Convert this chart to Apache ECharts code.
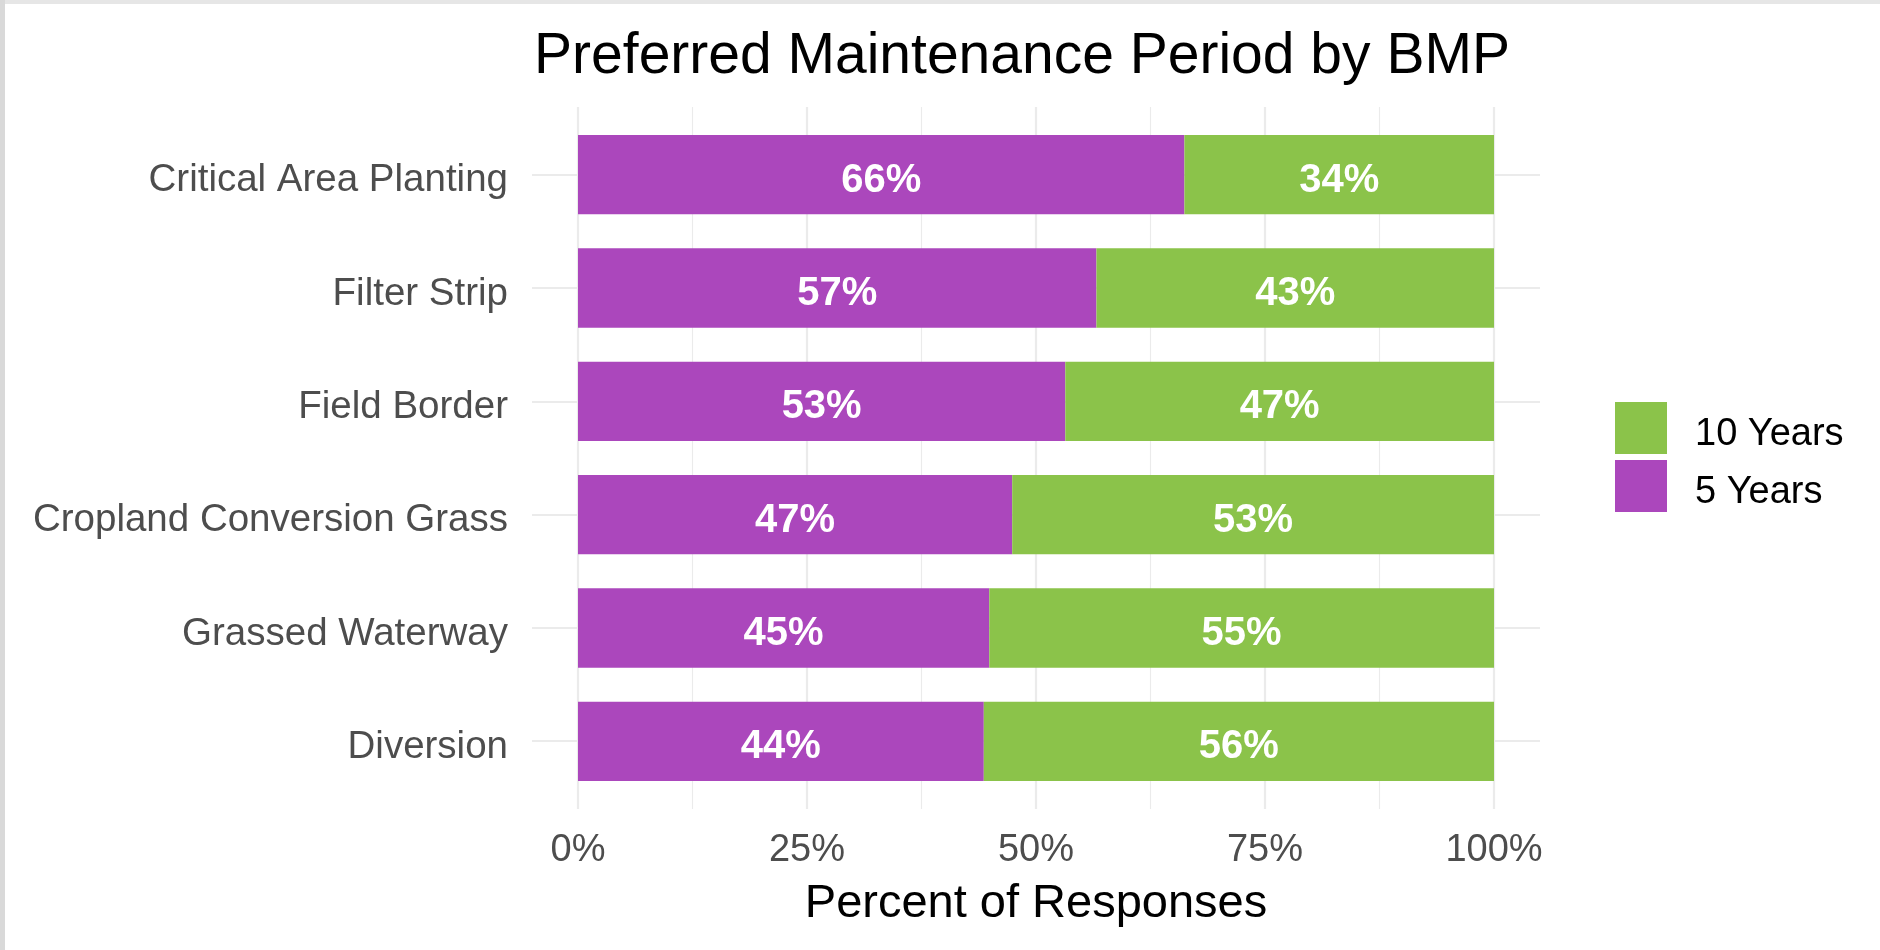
<!DOCTYPE html>
<html>
<head>
<meta charset="utf-8">
<script src="https://cdn.jsdelivr.net/npm/echarts@6/dist/echarts.min.js"></script>
<style>
  html, body { margin: 0; padding: 0; background: #fff; }
  #chart { width: 1880px; height: 950px; }
  .edge-top { position: absolute; left: 0; top: 0; width: 1880px; height: 4px; background: #e6e6e6; }
  .edge-left { position: absolute; left: 0; top: 0; width: 5px; height: 950px; background: #d9d9d9; }
</style>
</head>
<body>
<div id="chart"></div>
<div class="edge-top"></div>
<div class="edge-left"></div>
<script>
// 数据：每个BMP的偏好维护周期占比（从上到下）
const categories = [
  'Critical Area Planting',
  'Filter Strip',
  'Field Border',
  'Cropland Conversion Grass',
  'Grassed Waterway',
  'Diversion'
]
const fiveYears = [66.2, 56.6, 53.2, 47.4, 44.9, 44.3]
const tenYears = [33.8, 43.4, 46.8, 52.6, 55.1, 55.7]

// 网格线位置
const majorTicks = [0, 25, 50, 75, 100]
const minorTicks = [12.5, 37.5, 62.5, 87.5]
const rowTicks = [1, 2, 3, 4, 5, 6]

const fontFamily = '"Liberation Sans", Arial, sans-serif'
const gridColor = '#ebebeb'

const chart = echarts.init(document.getElementById('chart'))

const barLabel = {
  show: true,
  position: 'inside',
  offset: [0, 6],
  formatter: (p) => Math.round(p.value) + '%',
  color: '#fff',
  fontWeight: 'bold',
  fontSize: 40,
  fontFamily
}

const option = {
  animation: false,
  backgroundColor: '#fff',
  title: {
    text: 'Preferred Maintenance Period by BMP',
    left: 1017,
    textAlign: 'center',
    top: 24,
    textStyle: { fontSize: 57, fontWeight: 'normal', color: '#000', fontFamily }
  },
  legend: {
    data: ['10 Years', '5 Years'],
    orient: 'vertical',
    left: 1610,
    top: 397,
    itemWidth: 52,
    itemHeight: 52,
    itemGap: 6,
    icon: 'rect',
    selectedMode: false,
    formatter: (name) => '{a|' + name + '}',
    textStyle: {
      rich: {
        // 文字略往下、往右移
        a: { fontSize: 38, color: '#000', fontFamily, padding: [14, 0, 0, 23] }
      }
    }
  },
  grid: [
    // 面板（含扩展区域），只画网格线
    { left: 532, right: 340, top: 107, bottom: 141 },
    // 柱子区域
    { left: 578, right: 386, top: 118, bottom: 152 }
  ],
  xAxis: [
    {
      gridIndex: 0,
      type: 'value',
      min: -5,
      max: 105,
      axisLine: { show: false },
      axisLabel: { show: false },
      axisTick: { show: false, customValues: majorTicks },
      splitLine: { show: true, lineStyle: { color: gridColor, width: 2.2 } }
    },
    {
      gridIndex: 0,
      type: 'value',
      min: -5,
      max: 105,
      axisLine: { show: false },
      axisLabel: { show: false },
      axisTick: { show: false, customValues: minorTicks },
      splitLine: { show: true, lineStyle: { color: gridColor, width: 1.1 } }
    },
    {
      gridIndex: 1,
      type: 'value',
      min: 0,
      max: 100,
      interval: 25,
      axisLine: { show: false },
      axisTick: { show: false },
      splitLine: { show: false },
      axisLabel: {
        formatter: '{value}%',
        color: '#4d4d4d',
        fontSize: 38,
        fontFamily,
        margin: 34
      },
      name: 'Percent of Responses',
      nameLocation: 'middle',
      nameGap: 83,
      nameTextStyle: { fontSize: 47, color: '#000', fontFamily }
    }
  ],
  yAxis: [
    {
      gridIndex: 0,
      type: 'value',
      min: 0.4,
      max: 6.6,
      axisLine: { show: false },
      axisLabel: { show: false },
      axisTick: { show: false, customValues: rowTicks },
      splitLine: { show: true, lineStyle: { color: gridColor, width: 2.2 } }
    },
    {
      gridIndex: 1,
      type: 'category',
      data: categories,
      inverse: true,
      axisLine: { show: false },
      axisTick: { show: false },
      splitLine: { show: false },
      axisLabel: {
        margin: 70,
        formatter: (v) => '{a|' + v + '}',
        rich: {
          a: { color: '#4d4d4d', fontSize: 38.5, fontFamily, padding: [12, 0, 0, 0] }
        }
      }
    }
  ],
  series: [
    {
      name: '5 Years',
      type: 'bar',
      xAxisIndex: 2,
      yAxisIndex: 1,
      stack: 'total',
      barWidth: '70%',
      itemStyle: { color: '#AB47BC' },
      label: barLabel,
      data: fiveYears
    },
    {
      name: '10 Years',
      type: 'bar',
      xAxisIndex: 2,
      yAxisIndex: 1,
      stack: 'total',
      barWidth: '70%',
      itemStyle: { color: '#8BC34A' },
      label: barLabel,
      data: tenYears
    }
  ]
}

chart.setOption(option)
</script>
</body>
</html>
